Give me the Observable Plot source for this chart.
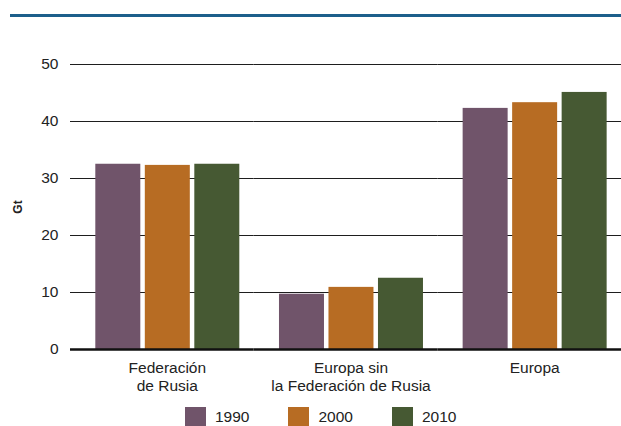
<!DOCTYPE html>
<html>
<head>
<meta charset="utf-8">
<script src="https://cdn.jsdelivr.net/npm/d3@7"></script>
<script src="https://cdn.jsdelivr.net/npm/@observablehq/plot@0.6"></script>
<style>
  body { margin: 0; background: #fff; font-family: "Liberation Sans", Arial, sans-serif; }
  #wrap { position: relative; width: 621px; height: 426px; overflow: hidden; }
  #topline { position: absolute; left: 10px; right: 0; top: 14px; height: 3px; background: #1c5f8b; }
  #chart { position: absolute; left: 0; top: 0; }
  #legend { position: absolute; left: 185px; top: 407px; display: flex; align-items: center; font-size: 15.5px; color: #222; }
  .item { display: flex; align-items: center; margin-right: 39px; }
  .sw { width: 21px; height: 20px; margin-right: 9px; }
</style>
</head>
<body>
<div id="wrap">
  <div id="topline"></div>
  <div id="chart"></div>
  <div id="legend"></div>
</div>
<script>
const regions = ["Federación\nde Rusia", "Europa sin\nla Federación de Rusia", "Europa"];
const years = ["1990", "2000", "2010"];
const values1990 = [32.5, 9.7, 42.3];
const values2000 = [32.3, 10.9, 43.3];
const values2010 = [32.5, 12.5, 45.1];
const colors = ["#70546a", "#b76c23", "#465933"];
const yTicks = [0, 10, 20, 30, 40, 50];
const yLabel = "Gt";

const seriesByYear = [values1990, values2000, values2010];
const data = regions.flatMap((r, i) =>
  years.map((y, j) => ({region: r, year: y, value: seriesByYear[j][i]}))
);

const chart = Plot.plot({
  width: 621,
  height: 400,
  marginLeft: 70,
  marginRight: 0,
  marginTop: 64,
  marginBottom: 51,
  style: {fontFamily: '"Liberation Sans", Arial, sans-serif', fontSize: "15.5px", color: "#222", background: "transparent"},
  fx: {domain: regions, padding: 0, round: false},
  x: {domain: years, paddingInner: 0.0909, paddingOuter: 0.4007, align: 0.638, round: false, axis: null},
  y: {domain: [0, 50]},
  color: {domain: years, range: colors},
  marks: [
    Plot.ruleY(yTicks.slice(1), {stroke: "#1e1e1e", strokeWidth: 1.2}),
    Plot.barY(data, {fx: "region", x: "year", y: "value", fill: "year"}),
    Plot.ruleY([0], {stroke: "#111", strokeWidth: 2.6}),
    Plot.axisY({ticks: yTicks, tickSize: 0, tickPadding: 12, fontSize: 15.5, label: null}),
    Plot.axisY({ticks: [], label: yLabel, labelAnchor: "center", labelArrow: "none", labelOffset: 57, fontSize: 12, fontWeight: "bold"}),
    Plot.axisFx({anchor: "bottom", tickSize: 0, tickPadding: 10, fontSize: 15.5, lineHeight: 1.2, label: null, dx: 5})
  ]
});
document.getElementById("chart").appendChild(chart);

const legend = document.getElementById("legend");
years.forEach((y, i) => {
  const item = document.createElement("div");
  item.className = "item";
  const sw = document.createElement("div");
  sw.className = "sw";
  sw.style.background = colors[i];
  const t = document.createElement("span");
  t.textContent = y;
  item.appendChild(sw);
  item.appendChild(t);
  legend.appendChild(item);
});
</script>
</body>
</html>
